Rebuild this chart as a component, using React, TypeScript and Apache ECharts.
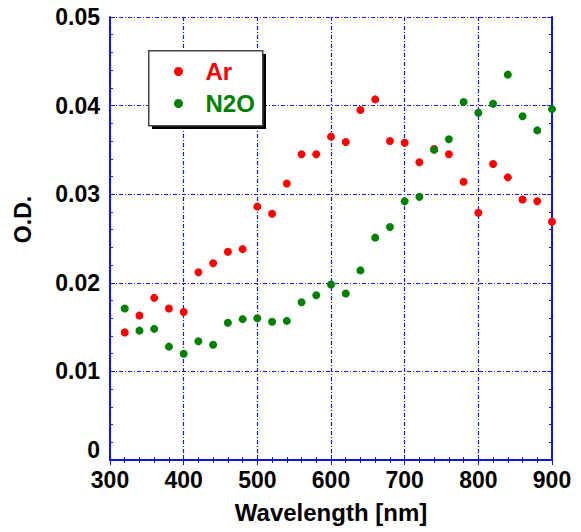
import React, { useEffect, useRef } from "react";
import * as echarts from "echarts";

const wavelengths = [320, 340, 360, 380, 400, 420, 440, 460, 480, 500, 520, 540, 560, 580, 600, 620, 640, 660, 680, 700, 720, 740, 760, 780, 800, 820, 840, 860, 880, 900];
const arValues = [0.0144, 0.0163, 0.0183, 0.0171, 0.0167, 0.0212, 0.0222, 0.0235, 0.0238, 0.0286, 0.0278, 0.0312, 0.0345, 0.0345, 0.0365, 0.0359, 0.0395, 0.0407, 0.0360, 0.0358, 0.0336, 0.0351, 0.0345, 0.0314, 0.0279, 0.0334, 0.0319, 0.0294, 0.0292, 0.0269];
const n2oValues = [0.0171, 0.0146, 0.0148, 0.0128, 0.0120, 0.0134, 0.0130, 0.0155, 0.0159, 0.0160, 0.0156, 0.0157, 0.0178, 0.0186, 0.0198, 0.0188, 0.0214, 0.0251, 0.0263, 0.0292, 0.0297, 0.0350, 0.0362, 0.0404, 0.0392, 0.0402, 0.0435, 0.0388, 0.0372, 0.0396];
const xTicks = [300, 400, 500, 600, 700, 800, 900];
const yTicks = [0, 0.01, 0.02, 0.03, 0.04, 0.05];

const FONT = "Liberation Sans, Arial, sans-serif";
const BLUE = "#1414e0";

export default function App() {
  const ref = useRef<HTMLDivElement>(null);
  useEffect(() => {
    if (!ref.current) return;
    const chart = echarts.init(ref.current, undefined, { renderer: "svg" });
    const labelStyle = { fontFamily: FONT, fontWeight: "bold" as const, fontSize: 23, color: "#000" };
    const axisLine = { show: true, lineStyle: { color: BLUE, width: 2 } };
    const splitLine = { show: true, lineStyle: { color: BLUE, width: 1.2, type: [4, 2, 1, 2] as any } };
    chart.setOption({
      animation: false,
      backgroundColor: "#fff",
      grid: { left: 110, top: 17, right: 29, bottom: 72, containLabel: false },
      xAxis: [
        {
          type: "value",
          min: xTicks[0],
          max: xTicks[xTicks.length - 1],
          interval: 100,
          name: "Wavelength [nm]",
          nameLocation: "middle",
          nameGap: 40,
          nameTextStyle: { ...labelStyle, fontSize: 24 },
          axisLine,
          axisTick: { show: true, inside: true, length: 5, lineStyle: { color: BLUE } },
          minorTick: { show: true, splitNumber: 5, length: 3, lineStyle: { color: BLUE } },
          axisLabel: { ...labelStyle, margin: 8 },
          splitLine,
        },
        {
          type: "value",
          position: "top",
          min: xTicks[0],
          max: xTicks[xTicks.length - 1],
          interval: 100,
          axisLine,
          axisTick: { show: true, inside: true, length: 5, lineStyle: { color: BLUE } },
          minorTick: { show: true, splitNumber: 5, length: 3, lineStyle: { color: BLUE } },
          axisLabel: { show: false },
          splitLine: { show: false },
        },
      ],
      yAxis: [
        {
          type: "value",
          min: yTicks[0],
          max: yTicks[yTicks.length - 1],
          interval: 0.01,
          name: "O.D.",
          nameLocation: "middle",
          nameGap: 76,
          nameTextStyle: { ...labelStyle, fontSize: 23, padding: [0, 0, 0, 38] },
          axisLine,
          axisTick: { show: true, inside: true, length: 5, lineStyle: { color: BLUE } },
          minorTick: { show: true, splitNumber: 5, length: 3, lineStyle: { color: BLUE } },
          axisLabel: {
            ...labelStyle,
            margin: 10,
            formatter: (v: number) => (v === 0 ? "{z|0}" : v.toFixed(2)),
            rich: { z: { ...labelStyle, padding: [0, 0, 20, 0] } },
          },
          splitLine,
        },
        {
          type: "value",
          position: "right",
          min: yTicks[0],
          max: yTicks[yTicks.length - 1],
          interval: 0.01,
          axisLine,
          axisTick: { show: true, inside: true, length: 5, lineStyle: { color: BLUE } },
          minorTick: { show: true, splitNumber: 5, length: 3, lineStyle: { color: BLUE } },
          axisLabel: { show: false },
          splitLine: { show: false },
        },
      ],
      graphic: [
        { type: "rect", left: 152, top: 54, shape: { width: 114, height: 75 }, style: { fill: "#000" }, z: 10 },
        { type: "rect", left: 148, top: 50, shape: { width: 114, height: 75 }, style: { fill: "#fff", stroke: "#444", lineWidth: 1.5 }, z: 11 },
      ],
      legend: {
        orient: "vertical",
        left: 169,
        top: 54,
        itemWidth: 44,
        itemHeight: 9,
        itemGap: 7,
        icon: "circle",
        symbolKeepAspect: true,
        z: 20,
        textStyle: { fontFamily: FONT, fontWeight: "bold", fontSize: 24, lineHeight: 25 },
        data: [
          { name: "Ar", textStyle: { color: "#ff0000" } },
          { name: "N2O", textStyle: { color: "#008000" } },
        ],
      },
      series: [
        {
          name: "Ar",
          type: "scatter",
          symbol: "circle",
          symbolSize: 8,
          itemStyle: { color: "#ff0000", opacity: 1 },
          data: wavelengths.map((w, i) => [w, arValues[i]]),
        },
        {
          name: "N2O",
          type: "scatter",
          symbol: "circle",
          symbolSize: 8,
          itemStyle: { color: "#008000", opacity: 1 },
          data: wavelengths.map((w, i) => [w, n2oValues[i]]),
        },
      ],
    });
    return () => chart.dispose();
  }, []);
  return <div ref={ref} style={{ width: 581, height: 532, position: "absolute", left: 0, top: 0 }} />;
}
